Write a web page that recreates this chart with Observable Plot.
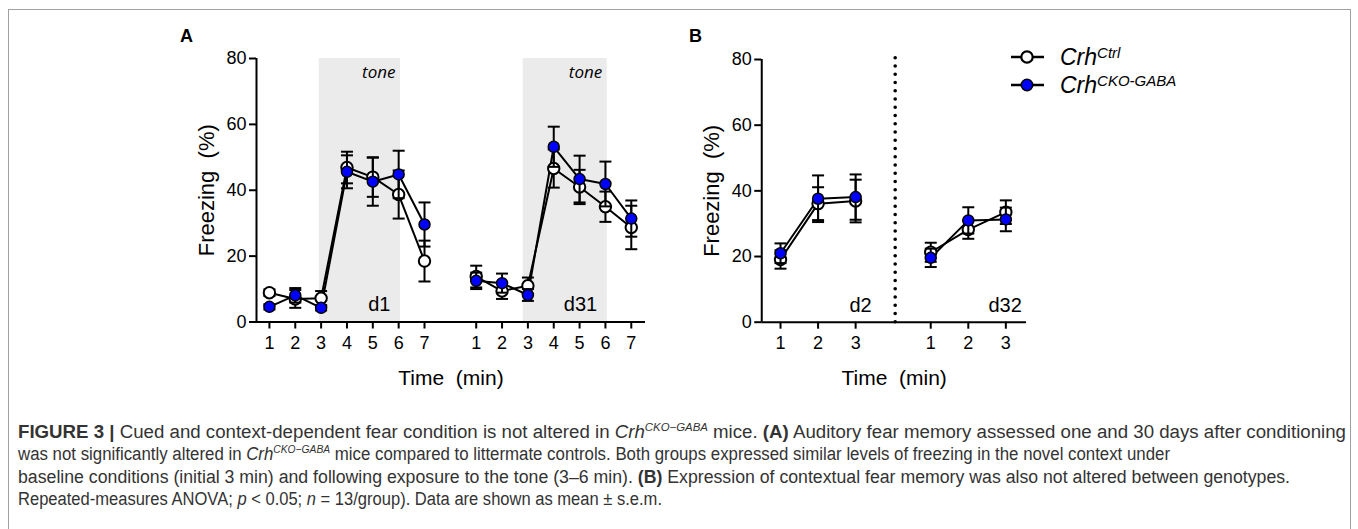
<!DOCTYPE html>
<html>
<head>
<meta charset="utf-8">
<script src="https://cdn.jsdelivr.net/npm/d3@7"></script>
<script src="https://cdn.jsdelivr.net/npm/@observablehq/plot@0.6"></script>
<style>
  html, body { margin: 0; padding: 0; background: #fff; }
  #fig { position: relative; width: 1358px; height: 529px; overflow: hidden; background: #fff;
         font-family: "Liberation Sans", Arial, Helvetica, sans-serif; color: #000; }
  #border { position: absolute; left: 8px; top: 9px; width: 1343px; height: 600px;
            border: 1px solid #a0a0a0; box-sizing: border-box; }
  .letter { position: absolute; font-weight: bold; font-size: 18px; line-height: 18px; }
  .panel { position: absolute; }
  .panel svg { max-width: none !important; overflow: visible; }
  .leg { position: absolute; height: 28px; line-height: 28px; white-space: nowrap; }
  .leg svg { position: absolute; left: 0; top: 0; }
  .leg .lab { position: absolute; left: 50px; top: 0; font-size: 23px; font-style: italic; }
  .leg .lab span { font-size: 15px; vertical-align: 7.5px; line-height: 0; }
  .cap { position: absolute; left: 18px; white-space: nowrap; font-size: 18px; line-height: 22px; color: #333;
         transform-origin: 0 50%; }
  .cap sup { font-size: 11px; vertical-align: 7px; line-height: 0; font-style: italic; }
</style>
</head>
<body>
<div id="fig">
  <div id="border"></div>
  <div class="letter" style="left:180px; top:26.5px">A</div>
  <div class="letter" style="left:689px; top:26.5px">B</div>
  <div class="panel" id="panelA" style="left:160px; top:30px; width:500px; height:370px"></div>
  <div class="panel" id="panelB" style="left:680px; top:30px; width:400px; height:370px"></div>
  <div id="legend"></div>
  <div id="caption"></div>
</div>
<script>
// ---------------- data ----------------
// Panel A: cued fear (tone), minutes 1-7 on day 1 and day 31
const minutesA = [1, 2, 3, 4, 5, 6, 7];
const daysA = ["d1", "d31"];
const ctrlA_d1     = [8.9, 7.0, 7.2, 46.9, 44.0, 38.7, 18.5];
const ctrlA_d1_sem = [1.0, 2.7, 2.2, 4.8, 6.0, 7.3, 6.2];
const ckoA_d1      = [4.6, 8.1, 4.3, 45.6, 42.6, 44.8, 29.6];
const ckoA_d1_sem  = [0.8, 2.2, 0.8, 5.0, 7.3, 7.2, 6.7];
const ctrlA_d31     = [13.8, 9.4, 11.0, 46.6, 41.0, 35.0, 28.7];
const ctrlA_d31_sem = [3.3, 2.4, 2.5, 5.8, 5.2, 4.6, 6.6];
const ckoA_d31      = [12.5, 11.8, 8.2, 53.2, 43.4, 41.9, 31.4];
const ckoA_d31_sem  = [2.5, 2.9, 1.8, 6.1, 7.1, 6.8, 5.5];
const toneMinutesA = [[2.93, 6.07], [10.82, 14.07]]; // shaded tone periods on the broken axis
const toneLabel = "tone";

// Panel B: contextual fear, minutes 1-3 on day 2 and day 32
const minutesB = [1, 2, 3];
const daysB = ["d2", "d32"];
const ctrlB_d2     = [19.1, 36.1, 36.9];
const ctrlB_d2_sem = [2.8, 5.0, 6.5];
const ckoB_d2      = [21.0, 37.6, 38.1];
const ckoB_d2_sem  = [3.0, 7.1, 6.9];
const ctrlB_d32     = [21.3, 28.2, 33.5];
const ctrlB_d32_sem = [2.9, 2.8, 3.6];
const ckoB_d32      = [19.6, 31.0, 31.3];
const ckoB_d32_sem  = [2.8, 4.0, 3.6];

const yTicks = [0, 20, 40, 60, 80];
const yLabel = "Freezing  (%)";
const xLabel = "Time  (min)";
const seriesNames = ["Crh", "Crh"];
const seriesSups = ["Ctrl", "CKO-GABA"];

// ---------------- helpers ----------------
const FONT = '"Liberation Sans", Arial, Helvetica, sans-serif';
const BLUE = "#0000ff";

function buildRows(minutes, days, means, sems) {
  const step = minutes.length + 1; // one empty slot between days on the broken axis
  return days.flatMap((day, di) => minutes.map((m, mi) => ({
    x: m + di * step,
    day,
    mean: means[di][mi],
    lo: means[di][mi] - sems[di][mi],
    hi: means[di][mi] + sems[di][mi]
  })));
}
function tickPositions(minutes, days) {
  const step = minutes.length + 1;
  return days.flatMap((d, di) => minutes.map(m => m + di * step));
}
function tickLabel(minutes, days) {
  const step = minutes.length + 1;
  const map = new Map();
  days.forEach((d, di) => minutes.forEach(m => map.set(m + di * step, String(m))));
  return v => map.get(v) ?? "";
}
const cap = { draw(ctx) { ctx.moveTo(-6, 0); ctx.lineTo(6, 0); } };

function seriesMarks(ctrlRows, ckoRows) {
  return [
    Plot.line(ctrlRows, {x: "x", y: "mean", z: "day", stroke: "black", strokeWidth: 2}),
    Plot.line(ckoRows, {x: "x", y: "mean", z: "day", stroke: "black", strokeWidth: 2}),
    Plot.ruleX(ctrlRows, {x: "x", y1: "lo", y2: "hi", stroke: "black", strokeWidth: 2}),
    Plot.dot(ctrlRows, {x: "x", y: "hi", symbol: cap, fill: "none", stroke: "black", strokeWidth: 2}),
    Plot.dot(ctrlRows, {x: "x", y: "lo", symbol: cap, fill: "none", stroke: "black", strokeWidth: 2}),
    Plot.dot(ctrlRows, {x: "x", y: "mean", r: 5.7, fill: "white", stroke: "black", strokeWidth: 2}),
    Plot.ruleX(ckoRows, {x: "x", y1: "lo", y2: "hi", stroke: "black", strokeWidth: 2}),
    Plot.dot(ckoRows, {x: "x", y: "hi", symbol: cap, fill: "none", stroke: "black", strokeWidth: 2}),
    Plot.dot(ckoRows, {x: "x", y: "lo", symbol: cap, fill: "none", stroke: "black", strokeWidth: 2}),
    Plot.dot(ckoRows, {x: "x", y: "mean", r: 5.5, fill: BLUE, stroke: "black", strokeWidth: 1.5})
  ];
}
function axesMarks(xTicks, xFmt, xStart, yLabelDx) {
  return [
    Plot.ruleY([0], {stroke: "black", strokeWidth: 2}),
    Plot.ruleX([xStart], {stroke: "black", strokeWidth: 2}),
    Plot.axisY(yTicks, {tickSize: 7, tickPadding: 3, strokeWidth: 2, label: null, fontSize: 18}),
    Plot.axisX(xTicks, {tickSize: 7, tickPadding: 7, strokeWidth: 2, tickFormat: xFmt, label: null, fontSize: 18}),
    Plot.text([yLabel], {text: d => d, frameAnchor: "left", rotate: -90, textAnchor: "middle",
      lineAnchor: "bottom", dx: yLabelDx, fontSize: 22}),
    Plot.text([xLabel], {text: d => d, frameAnchor: "bottom", textAnchor: "middle",
      lineAnchor: "bottom", dy: 62.5, fontSize: 21})
  ];
}
const baseStyle = {fontFamily: FONT, fontSize: "18px", color: "black", background: "transparent", overflow: "visible"};

// ---------------- Panel A ----------------
const ctrlRowsA = buildRows(minutesA, daysA, [ctrlA_d1, ctrlA_d31], [ctrlA_d1_sem, ctrlA_d31_sem]);
const ckoRowsA  = buildRows(minutesA, daysA, [ckoA_d1, ckoA_d31], [ckoA_d1_sem, ckoA_d31_sem]);
const toneRowsA = toneMinutesA.map(([start, end]) => ({start, end, label: toneLabel}));
const dayLabelRowsA = daysA.map((day, di) => ({day, x: toneMinutesA[di][1]}));
const xTicksA = tickPositions(minutesA, daysA);

const plotA = Plot.plot({
  width: 500, height: 370,
  marginLeft: 96, marginRight: 15, marginTop: 28, marginBottom: 78.5,
  x: {domain: [0.5, 15.55]},
  y: {domain: [0, 80]},
  style: baseStyle,
  marks: [
    Plot.rect(toneRowsA, {x1: "start", x2: "end", y1: 0, y2: 80, fill: "#ebebeb"}),
    Plot.text(toneRowsA, {x: "end", text: "label", frameAnchor: "top", textAnchor: "end", lineAnchor: "bottom",
      dx: -5, dy: 19.5, fontStyle: "italic", fontFamily: "Open Sans", fontSize: 17}),
    Plot.text(dayLabelRowsA, {x: "x", text: "day", frameAnchor: "bottom", textAnchor: "end", lineAnchor: "bottom",
      dx: -10, dy: -10.8, fontSize: 20}),
    ...axesMarks(xTicksA, tickLabel(minutesA, daysA), 0.5, -42.5),
    ...seriesMarks(ctrlRowsA, ckoRowsA)
  ]
});
document.getElementById("panelA").append(plotA);

// ---------------- Panel B ----------------
const ctrlRowsB = buildRows(minutesB, daysB, [ctrlB_d2, ctrlB_d32], [ctrlB_d2_sem, ctrlB_d32_sem]);
const ckoRowsB  = buildRows(minutesB, daysB, [ckoB_d2, ckoB_d32], [ckoB_d2_sem, ckoB_d32_sem]);
const xTicksB = tickPositions(minutesB, daysB);
const stepB = minutesB.length + 1;
const separatorB = stepB; // gap between the two days
const dayLabelRowsB = daysB.map((day, di) => ({day, x: minutesB[minutesB.length - 1] + di * stepB}));

const plotB = Plot.plot({
  width: 400, height: 370,
  marginLeft: 81.25, marginRight: 54, marginTop: 29, marginBottom: 78.3,
  x: {domain: [0.5, 7.55]},
  y: {domain: [0, 80]},
  style: baseStyle,
  marks: [
    Plot.ruleX([separatorB], {y1: 0, y2: 80.5, stroke: "black", strokeWidth: 3.6,
      strokeDasharray: "0 8.25", strokeLinecap: "round", dx: 2}),
    Plot.text(dayLabelRowsB, {x: "x", text: "day", frameAnchor: "bottom", textAnchor: "end", lineAnchor: "bottom",
      dx: 16, dy: -10, fontSize: 20}),
    ...axesMarks(xTicksB, tickLabel(minutesB, daysB), 0.5, -43),
    ...seriesMarks(ctrlRowsB, ckoRowsB)
  ]
});
document.getElementById("panelB").append(plotB);

// ---------------- Legend ----------------
const legend = document.getElementById("legend");
const legendTops = [42.7, 71];
seriesNames.forEach((name, i) => {
  const row = document.createElement("div");
  row.className = "leg";
  row.style.left = "1010px";
  row.style.top = legendTops[i] + "px";
  const fill = i === 0 ? "white" : BLUE;
  const sw = i === 0 ? 2.2 : 1.6;
  row.innerHTML = `<svg width="36" height="28"><line x1="1" y1="14" x2="34" y2="14" stroke="black" stroke-width="2.5"/>` +
    `<circle cx="17" cy="14" r="5.7" fill="${fill}" stroke="black" stroke-width="${sw}"/></svg>` +
    `<div class="lab">${name}<span>${seriesSups[i]}</span></div>`;
  legend.append(row);
});

// ---------------- Caption ----------------
const captionLines = [
  `<b>FIGURE 3 |</b> Cued and context-dependent fear condition is not altered in <i>Crh</i><sup>CKO−GABA</sup> mice. <b>(A)</b> Auditory fear memory assessed one and 30 days after conditioning`,
  `was not significantly altered in <i>Crh</i><sup>CKO−GABA</sup> mice compared to littermate controls. Both groups expressed similar levels of freezing in the novel context under`,
  `baseline conditions (initial 3 min) and following exposure to the tone (3–6 min). <b>(B)</b> Expression of contextual fear memory was also not altered between genotypes.`,
  `Repeated-measures ANOVA; <i>p</i> &lt; 0.05; <i>n</i> = 13/group). Data are shown as mean ± s.e.m.`
];
const captionTops = [420.8, 443.3, 465.8, 488.3];
const captionWidths = [1328, 1152, 1272, 644]; // rendered line lengths in the figure
const capEl = document.getElementById("caption");
captionLines.forEach((html, i) => {
  const d = document.createElement("div");
  d.className = "cap";
  d.style.top = captionTops[i] + "px";
  d.innerHTML = html;
  capEl.append(d);
  const w = d.getBoundingClientRect().width;
  if (w > 0) d.style.transform = `scaleX(${captionWidths[i] / w})`;
});
</script>
</body>
</html>
